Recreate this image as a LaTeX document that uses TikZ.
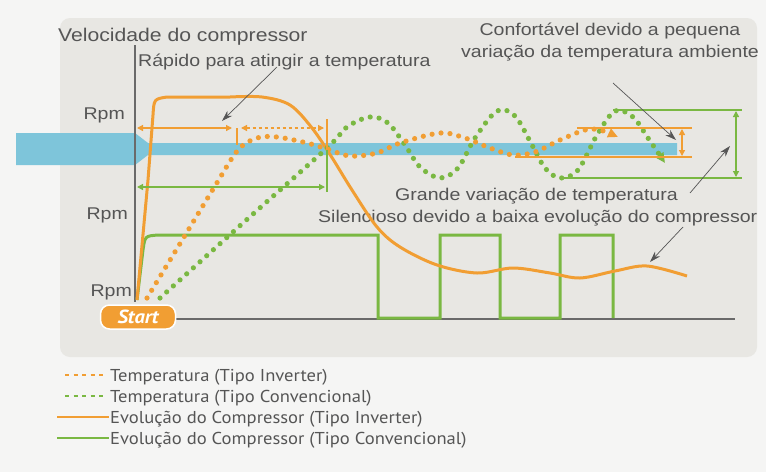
\documentclass[tikz,border=0pt]{standalone}
\usepackage{fontspec}
\setmainfont{Liberation Sans}[FakeStretch=1.15]
\newfontfamily\legfont{PT Sans}[FakeStretch=1.08]
\usetikzlibrary{arrows.meta}
\definecolor{org}{HTML}{F19E33}
\definecolor{grn}{HTML}{7AB842}
\definecolor{blu}{HTML}{7EC5DA}
\definecolor{pnl}{HTML}{E8E7E3}
\definecolor{bgc}{HTML}{F5F5F4}
\definecolor{txt}{HTML}{555555}
\definecolor{axc}{HTML}{6A6A6A}
\begin{document}
\begin{tikzpicture}[x=1pt,y=-1pt,
  lbl/.style={inner sep=0pt, text=txt, font=\fontsize{17}{22}\selectfont},
  leg/.style={inner sep=0pt, anchor=base west, text=txt, font=\legfont\fontsize{17.2}{19}\selectfont},
  ann/.style={draw=txt, line width=0.7pt, -{Stealth[length=11pt,width=7pt]}},
  dimo/.style={draw=org, line width=1.3pt},
  dimg/.style={draw=grn, line width=1.3pt},
  tipo/.style={{Triangle[length=6pt,width=6pt]}-{Triangle[length=6pt,width=6pt]}},
  doto/.style={draw=org, line width=5.2pt, line cap=round, dash pattern=on 0pt off 9pt},
  dotg/.style={draw=grn, line width=5.2pt, line cap=round, dash pattern=on 0pt off 9pt},
  solo/.style={draw=org, line width=3pt, line join=round},
  solg/.style={draw=grn, line width=3pt, line join=miter},
  axis/.style={draw=axc, line width=1.2pt}]
\useasboundingbox (0,0) rectangle (766,472);
\fill[bgc] (0,0) rectangle (766,472);
\fill[pnl, rounded corners=10pt] (60,18) rectangle (757,357);
% blue band
\fill[blu] (16,133) -- (135,133) -- (148,143) -- (677,143) -- (677,155) -- (148,155) -- (135,165) -- (16,165) -- cycle;
% axes
\draw[axis] (135,45) -- (135,302);
\draw[axis] (175,319) -- (735,319);
% texts
\node[lbl, anchor=base west, font=\fontsize{18.4}{22}\selectfont] (vel) at (58,41) {Velocidade do compressor};
\node[lbl, anchor=base west] (rap) at (138,66) {Rápido para atingir a temperatura};
\node[lbl, anchor=base, align=center] (conf) at (610,57) {Confortável devido a pequena\\variação da temperatura ambiente};
\node[lbl, anchor=base west] (gra) at (395,200) {Grande variação de temperatura};
\node[lbl, anchor=base west] (sil) at (318,222) {Silencioso devido a baixa evolução do compressor};
\node[lbl, anchor=base east] (r1) at (125,119) {Rpm};
\node[lbl, anchor=base east] (r2) at (128,219) {Rpm};
\node[lbl, anchor=base east] (r3) at (132,296) {Rpm};
% compressor conventional
\draw[solg] (137,300) -- (143,250) .. controls (145,236) .. (158,235) -- (378,235) -- (378,318) -- (440,318) -- (440,235) -- (500,235) -- (500,318) -- (560,318) -- (560,235) -- (613,235) -- (613,318);
% compressor inverter
\draw[solo] (137,300) -- (148,180) -- (153,115) .. controls (154,99) .. (167,97) -- (230,97)
  plot[smooth, tension=0.55] coordinates {(230,97) (262,97) (290,105) (312,128) (331,156) (352,190) (377,227) (400,247) (437,265) (477,273) (513,268) (550,273) (580,278) (615,271) (647,266) (687,276)};
% temperature conventional
\draw[dotg, -{Triangle[length=10pt,width=9pt]}] plot[smooth, tension=0.55] coordinates {(160,298) (243,223) (327,148) (347,127) (370,117) (388,123) (405,145) (420,167) (440,178) (458,168) (475,138) (497,111) (515,116) (532,145) (545,168) (560,178) (578,170) (597,135) (615,111) (633,117) (648,138) (665,163)};
% temperature inverter
\draw[doto, -{Triangle[length=10pt,width=9pt]}] plot[smooth, tension=0.55] coordinates {(147,298) (181,242) (215,186) (238,150) (257,138) (277,137) (307,143) (327,149) (350,156) (377,153) (400,143) (440,133) (465,138) (490,148) (513,155) (535,152) (560,140) (585,130) (600,130) (618,137)};
% left dimension arrows
\draw[dimo, tipo] (137,128) -- (232,128);
\draw[dimo] (237,128) -- (237,145);
\draw[dimo, tipo, dashed] (241,128) -- (324,128);
\draw[dimo] (327,119) -- (327,150);
\draw[dimg, tipo] (137,187) -- (325,187);
\draw[dimg] (327,150) -- (327,192);
% right dimension arrows
\draw[dimo] (577,128) -- (692,128);
\draw[dimo] (515,157) -- (692,157);
\draw[dimo, tipo] (682,129) -- (682,156);
\draw[dimg] (613,110) -- (742,110);
\draw[dimg] (560,178) -- (742,178);
\draw[dimg, tipo] (736,111) -- (736,177);
% annotation arrows
\coordinate (a1s) at (277,67); \coordinate (a1e) at (222,121);
\coordinate (a2s) at (613,83); \coordinate (a2e) at (676,140);
\coordinate (a3s) at (690,193); \coordinate (a3e) at (730,146);
\coordinate (a4s) at (683,227); \coordinate (a4e) at (650,262);
\draw[ann] (a1s) -- (a1e);
\draw[ann] (a2s) -- (a2e);
\draw[ann] (a3s) -- (a3e);
\draw[ann] (a4s) -- (a4e);
% start badge
\node[fill=org, draw=white, line width=1.5pt, rounded corners=9pt, minimum width=75pt, minimum height=24pt, inner sep=1pt, text=white, font=\legfont\bfseries\itshape\fontsize{19}{19}\selectfont] (start) at (138,317) {Start};
% legend
\coordinate (l1a) at (65,375); \coordinate (l1b) at (107,375);
\coordinate (l2a) at (65,396); \coordinate (l2b) at (107,396);
\coordinate (l3a) at (57,417); \coordinate (l3b) at (109,417);
\coordinate (l4a) at (57,438); \coordinate (l4b) at (109,438);
\draw[draw=org, line width=2.5pt, dash pattern=on 4pt off 4.5pt] (l1a) -- (l1b);
\draw[draw=grn, line width=2.5pt, dash pattern=on 4pt off 4.5pt] (l2a) -- (l2b);
\draw[draw=org, line width=2.5pt] (l3a) -- (l3b);
\draw[draw=grn, line width=2.5pt] (l4a) -- (l4b);
\node[leg] (t1) at (110,381) {Temperatura (Tipo Inverter)};
\node[leg] (t2) at (110,402) {Temperatura (Tipo Convencional)};
\node[leg] (t3) at (110,423) {Evolução do Compressor (Tipo Inverter)};
\node[leg] (t4) at (110,444) {Evolução do Compressor (Tipo Convencional)};
\end{tikzpicture}
\end{document}
